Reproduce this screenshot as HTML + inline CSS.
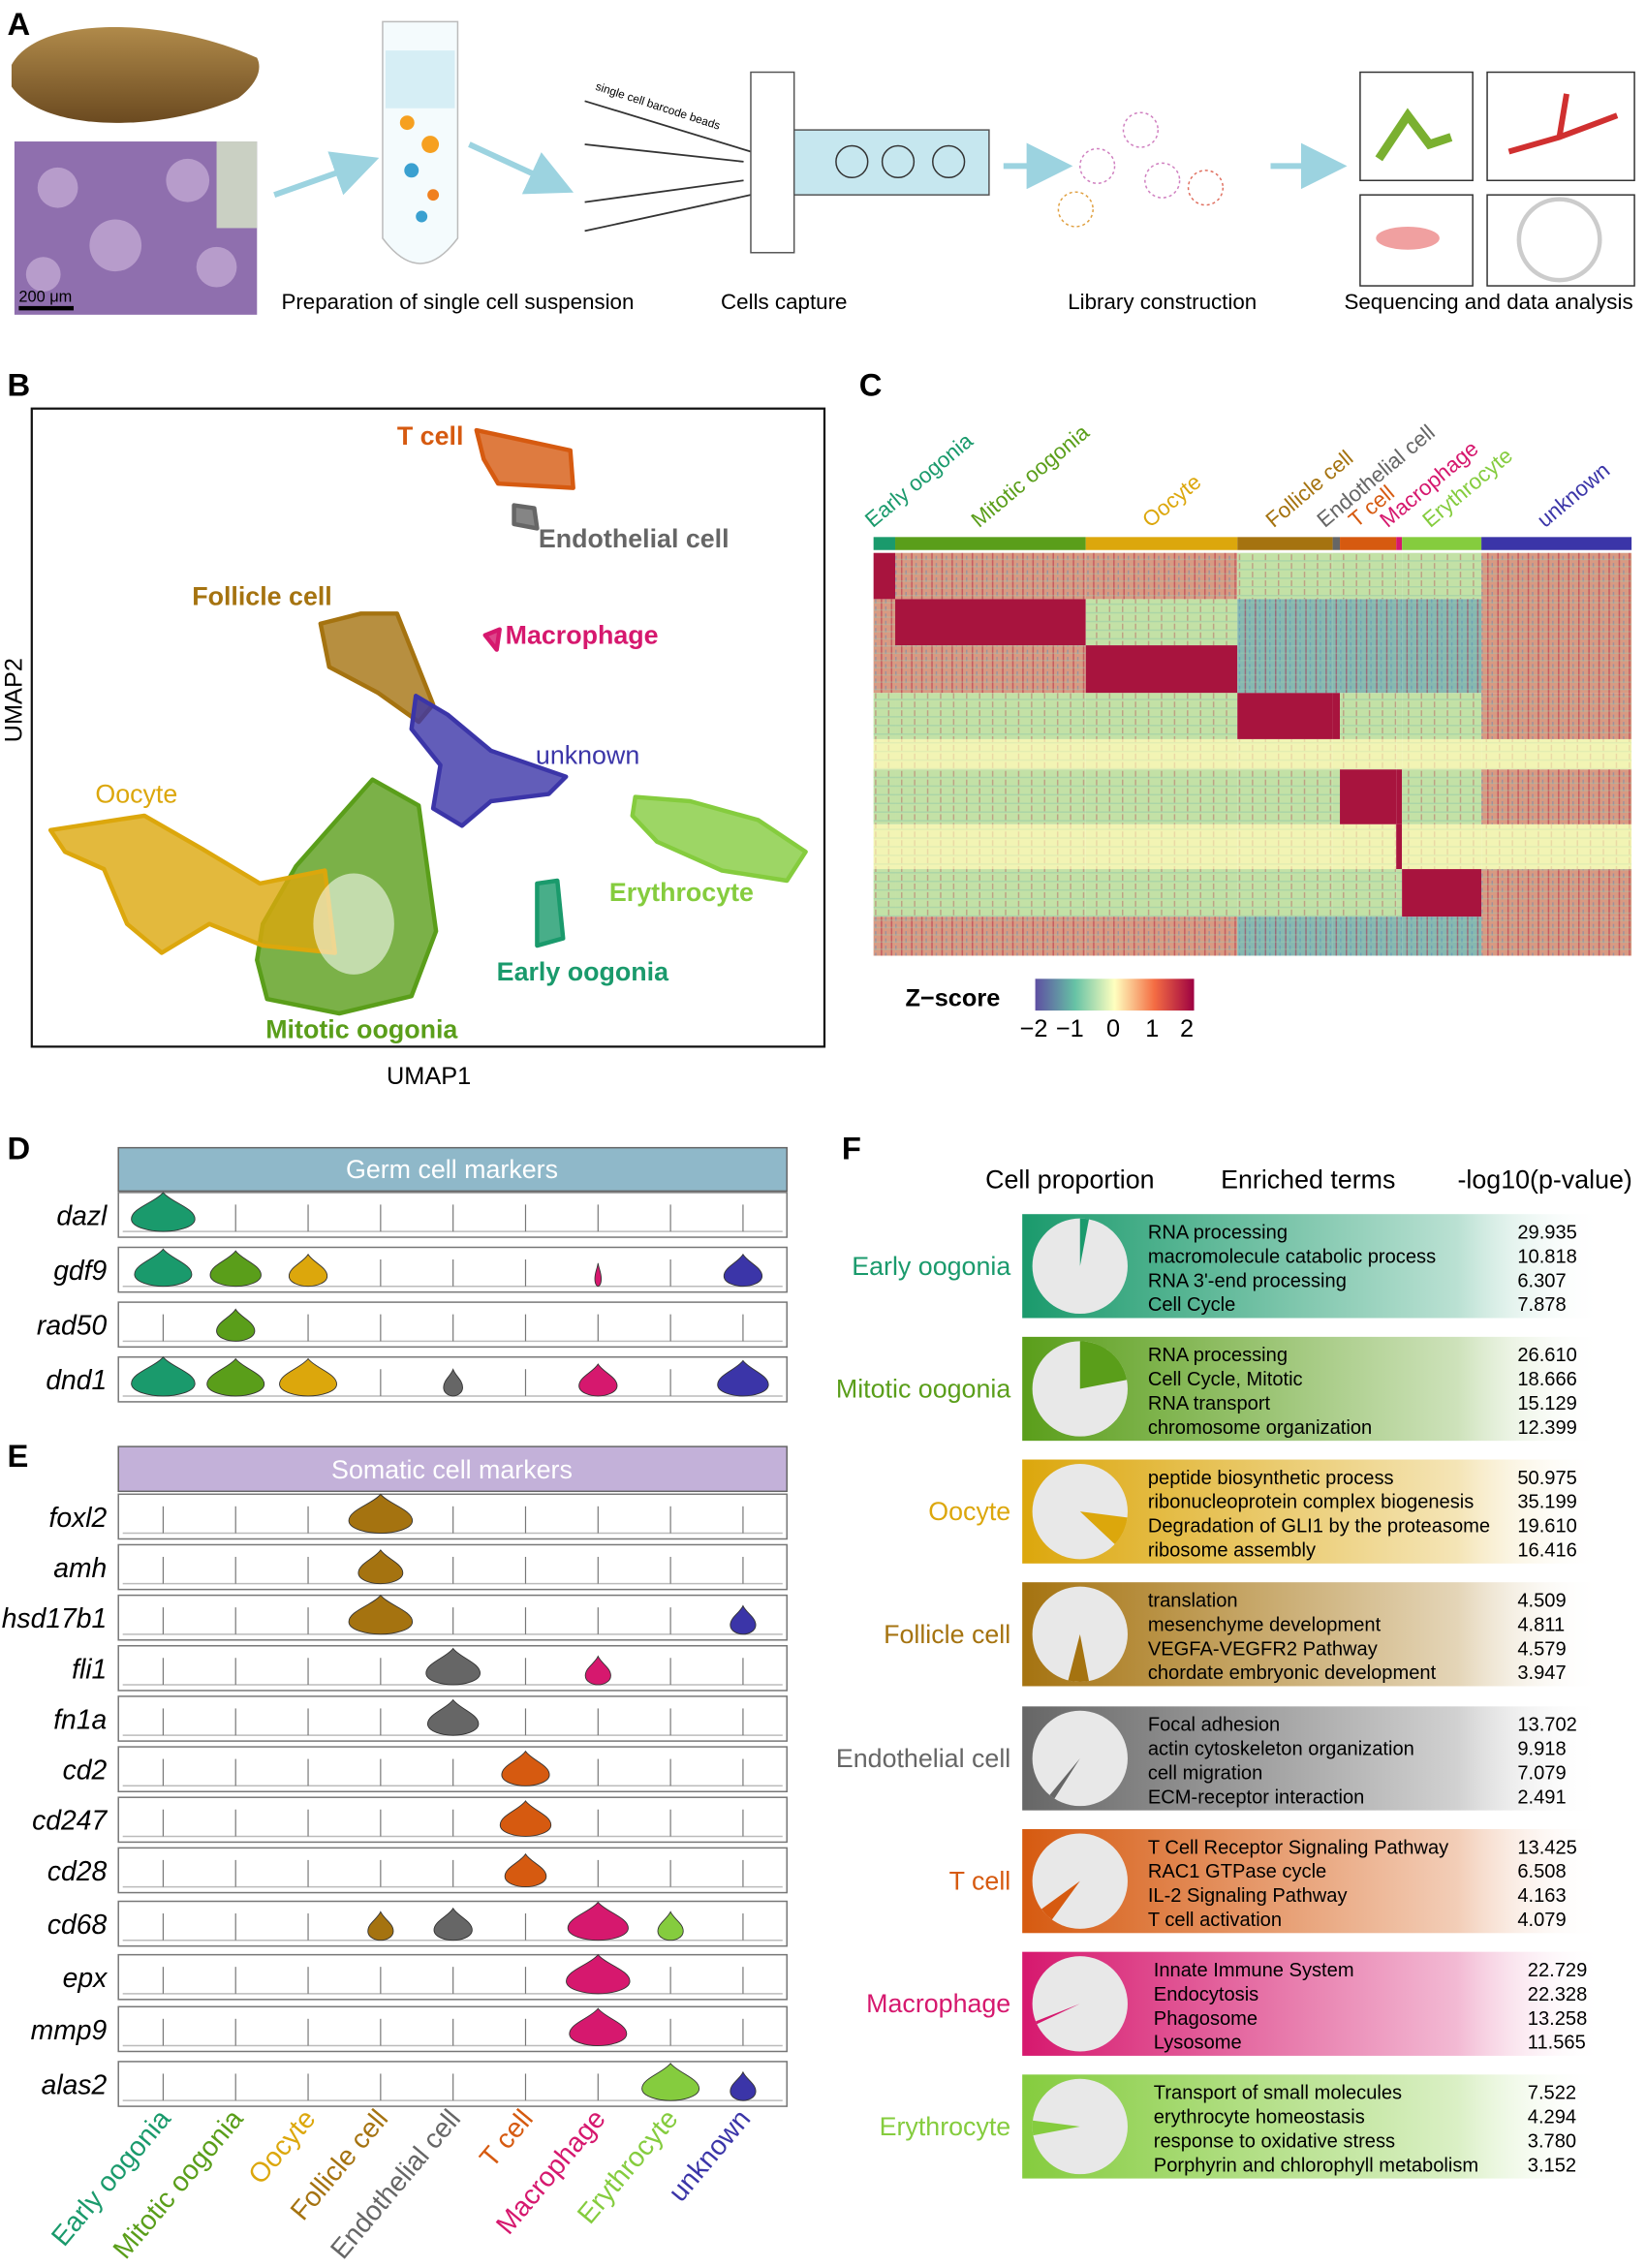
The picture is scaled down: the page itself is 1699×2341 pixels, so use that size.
<!DOCTYPE html>
<html><head><meta charset="utf-8">
<style>
html,body{margin:0;padding:0;background:#fff;}
svg{display:block;font-family:"Liberation Sans",Arial,sans-serif;}
</style></head>
<body>
<svg id="fig" width="1699" height="2341" viewBox="0 0 1140 1571" preserveAspectRatio="none" xmlns="http://www.w3.org/2000/svg">
<defs>
<linearGradient id="fishg" x1="0" y1="0" x2="0" y2="1"><stop offset="0" stop-color="#b08a4a"/><stop offset="1" stop-color="#6b4a20"/></linearGradient>
<linearGradient id="zg" x1="0" x2="1" y1="0" y2="0"><stop offset="0" stop-color="#5e4fa2"/><stop offset="0.25" stop-color="#66c2a5"/><stop offset="0.5" stop-color="#ffffbf"/><stop offset="0.75" stop-color="#f46d43"/><stop offset="1" stop-color="#9e0142"/></linearGradient>
<pattern id="tex" width="7" height="5" patternUnits="userSpaceOnUse"><rect x="1" y="0" width="1" height="5" fill="#b0103a" opacity="0.45"/><rect x="4" y="0" width="1" height="3" fill="#4a7fc0" opacity="0.4"/><rect x="0" y="2" width="7" height="1" fill="#9ccfb0" opacity="0.35"/></pattern>
<pattern id="tex2" width="9" height="6" patternUnits="userSpaceOnUse"><rect x="3" y="0" width="1" height="4" fill="#b0103a" opacity="0.3"/><rect x="0" y="4" width="9" height="1" fill="#7fbfa8" opacity="0.35"/></pattern>
<marker id="arr" markerWidth="8" markerHeight="8" refX="6" refY="4" orient="auto"><path d="M0,0 L8,4 L0,8 z" fill="#9cd3e0"/></marker>
</defs>

<!-- Panel A -->
<g>
<text x="5" y="24" font-size="22" font-weight="bold">A</text>
<path d="M8,45 C25,12 110,10 178,40 C182,48 178,58 165,68 C110,92 30,92 8,60 Z" fill="url(#fishg)"/>
<rect x="10" y="98" width="168" height="120" fill="#8f6fae"/>
<g fill="#c8b0d8" opacity="0.7"><circle cx="40" cy="130" r="14"/><circle cx="80" cy="170" r="18"/><circle cx="130" cy="125" r="15"/><circle cx="150" cy="185" r="14"/><circle cx="30" cy="190" r="12"/></g>
<rect x="150" y="98" width="28" height="60" fill="#d8e8c8" opacity="0.8"/>
<rect x="13" y="212" width="38" height="3" fill="#000"/>
<text x="13" y="209" font-size="11" fill="#000">200 μm</text>
<path d="M190,135 L255,112" stroke="#9cd3e0" stroke-width="4" marker-end="url(#arr)"/>
<path d="M265,15 L317,15 L317,165 Q291,200 265,165 Z" fill="#f4fbfd" stroke="#bbb"/>
<rect x="267" y="35" width="48" height="40" fill="#d6eef5"/>
<g><circle cx="282" cy="85" r="5" fill="#f6a020"/><circle cx="298" cy="100" r="6" fill="#f6a020"/><circle cx="285" cy="118" r="5" fill="#3aa0d0"/><circle cx="300" cy="135" r="4" fill="#f08020"/><circle cx="292" cy="150" r="4" fill="#3aa0d0"/></g>
<path d="M325,100 L390,130" stroke="#9cd3e0" stroke-width="4" marker-end="url(#arr)"/>
<path d="M405,70 L520,105 M405,100 L515,112 M405,140 L515,125 M405,160 L520,135" stroke="#333" stroke-width="1.2" fill="none"/>
<rect x="520" y="50" width="30" height="125" fill="#fff" stroke="#555"/>
<rect x="550" y="90" width="135" height="45" fill="#c6e7ef" stroke="#555"/>
<circle cx="590" cy="112" r="11" fill="none" stroke="#333"/><circle cx="622" cy="112" r="11" fill="none" stroke="#333"/><circle cx="657" cy="112" r="11" fill="none" stroke="#333"/>
<text x="412" y="62" font-size="8" transform="rotate(18 412 62)">single cell barcode beads</text>
<path d="M695,115 L735,115" stroke="#9cd3e0" stroke-width="4" marker-end="url(#arr)"/>
<g stroke="#d080c0" stroke-width="1"><circle cx="760" cy="115" r="12" fill="none" stroke-dasharray="2 2"/><circle cx="790" cy="90" r="12" fill="none" stroke-dasharray="2 2"/><circle cx="805" cy="125" r="12" fill="none" stroke-dasharray="2 2"/><circle cx="835" cy="130" r="12" fill="none" stroke-dasharray="2 2" stroke="#e07060"/><circle cx="745" cy="145" r="12" fill="none" stroke-dasharray="2 2" stroke="#e0a040"/></g>
<path d="M880,115 L925,115" stroke="#9cd3e0" stroke-width="4" marker-end="url(#arr)"/>
<rect x="942" y="50" width="78" height="75" fill="#fff" stroke="#333"/>
<rect x="1030" y="50" width="102" height="75" fill="#fff" stroke="#333"/>
<rect x="942" y="135" width="78" height="63" fill="#fff" stroke="#333"/>
<rect x="1030" y="135" width="102" height="63" fill="#fff" stroke="#333"/>
<path d="M955,110 L975,80 L990,100 L1005,95" stroke="#7ab030" stroke-width="6" fill="none"/>
<path d="M1045,105 L1080,95 L1120,80 M1080,95 L1085,65" stroke="#d03030" stroke-width="4" fill="none"/>
<ellipse cx="975" cy="165" rx="22" ry="8" fill="#f0a0a0"/>
<circle cx="1080" cy="166" r="28" fill="none" stroke="#ccc" stroke-width="3"/>
<g font-size="15" text-anchor="middle">
<text x="317" y="214">Preparation of single cell suspension</text>
<text x="543" y="214">Cells capture</text>
<text x="805" y="214">Library construction</text>
<text x="1031" y="214">Sequencing and data analysis</text>
</g>
</g>

<!-- Panel B -->
<g>
<text x="5" y="274" font-size="22" font-weight="bold">B</text>
<rect x="22" y="283" width="549" height="442" fill="#fff" stroke="#111" stroke-width="1.5"/>
<g id="umap"></g>
<text x="297" y="751" font-size="17" text-anchor="middle">UMAP1</text>
<text x="15" y="485" font-size="17" text-anchor="middle" transform="rotate(-90 15 485)">UMAP2</text>
</g>

<!-- Panel C -->
<g>
<text x="595" y="274" font-size="22" font-weight="bold">C</text>
<g id="heat"></g>
<text x="627" y="697" font-size="17" font-weight="bold">Z−score</text>
<rect x="717" y="678" width="110" height="22" fill="url(#zg)"/>
<g font-size="17" text-anchor="middle"><text x="716" y="718">−2</text><text x="741" y="718">−1</text><text x="771" y="718">0</text><text x="798" y="718">1</text><text x="822" y="718">2</text></g>
</g>

<!-- Panel D/E -->
<g>
<text x="5" y="803" font-size="22" font-weight="bold">D</text>
<text x="5" y="1016" font-size="22" font-weight="bold">E</text>
<rect x="82" y="795" width="463" height="30" fill="#8fb8c9" stroke="#666"/>
<text x="313" y="816" font-size="18" fill="#fff" text-anchor="middle">Germ cell markers</text>
<rect x="82" y="1002" width="463" height="31" fill="#c3b1d9" stroke="#666"/>
<text x="313" y="1024" font-size="18" fill="#fff" text-anchor="middle">Somatic cell markers</text>
<g id="vio"></g>
</g>

<!-- Panel F -->
<g>
<text x="583" y="803" font-size="22" font-weight="bold">F</text>
<g font-size="18" text-anchor="middle">
<text x="741" y="823">Cell proportion</text>
<text x="906" y="823">Enriched terms</text>
<text x="1070" y="823">-log10(p-value)</text>
</g>
<g id="fpanel"></g>
</g>
</svg>
<script>
const NS="http://www.w3.org/2000/svg";
function mk(tag,attrs,parent){const e=document.createElementNS(NS,tag);for(const k in attrs)e.setAttribute(k,attrs[k]);parent.appendChild(e);return e;}

const clusters=["Early oogonia","Mitotic oogonia","Oocyte","Follicle cell","Endothelial cell","T cell","Macrophage","Erythrocyte","unknown"];
const colors=["#1a9a6c","#5a9e1a","#dca70c","#a57310","#666666","#d65a10","#d6186e","#85cc3e","#3b35a8"];

// ---- UMAP (cluster outline shapes) ----
const umapShapes=[
 {c:5,pts:[[330,298],[395,312],[397,338],[345,335],[335,318]]},
 {c:4,pts:[[356,350],[370,352],[372,366],[356,363]]},
 {c:3,pts:[[222,432],[250,425],[275,425],[300,488],[290,500],[262,480],[228,462]]},
 {c:8,pts:[[288,482],[310,495],[340,520],[392,538],[380,550],[340,555],[320,572],[300,560],[305,530],[285,505]]},
 {c:1,pts:[[182,640],[205,600],[258,540],[290,558],[302,645],[285,690],[235,702],[185,692],[178,665]]},
 {c:2,pts:[[35,575],[100,565],[140,588],[180,612],[225,603],[232,660],[182,655],[145,640],[112,660],[88,640],[72,602],[45,590]]},
 {c:7,pts:[[440,552],[478,555],[525,568],[558,590],[545,610],[500,603],[455,583],[438,565]]},
 {c:0,pts:[[372,612],[386,610],[390,650],[372,655]]},
 {c:6,pts:[[336,440],[346,436],[344,450]]}
];
const umapLabels=[
 {t:"T cell",c:5,x:275,y:308,b:1},{t:"Endothelial cell",c:4,x:373,y:379,b:1},{t:"Follicle cell",c:3,x:133,y:419,b:1},
 {t:"Macrophage",c:6,x:350,y:446,b:1},{t:"unknown",c:8,x:371,y:529,b:0},{t:"Oocyte",c:2,x:66,y:556,b:0},
 {t:"Erythrocyte",c:7,x:422,y:624,b:1},{t:"Early oogonia",c:0,x:344,y:679,b:1},{t:"Mitotic oogonia",c:1,x:184,y:719,b:1}
];
const ug=document.getElementById("umap");
umapShapes.forEach(s=>{
  const p=mk("polygon",{points:s.pts.map(q=>q.join(",")).join(" "),fill:colors[s.c],"fill-opacity":"0.8",stroke:colors[s.c],"stroke-width":"3","stroke-linejoin":"round"},ug);
  
  
});
const hole=mk("ellipse",{cx:245,cy:640,rx:28,ry:35,fill:"#fff","fill-opacity":"0.55"},ug);


umapLabels.forEach(l=>{
  const t=mk("text",{x:l.x,y:l.y,"font-size":"18","font-weight":l.b?"bold":"normal",fill:colors[l.c]},ug);
  t.textContent=l.t;
  
  
});

// ---- Heatmap ----
const colBounds=[605,620,752,857,923,928,967,971,1026,1130];
const rowBounds=[383,415,447,480,512,533,571,602,635,662];
const heatCodes=[
 "RMMGGGGGM",
 "MRGBBBBBM",
 "MMRBBBBBM",
 "GGGRRGGGM",
 "YYYYYYYYY",
 "GGGGGRRGM",
 "YYYYYYRYY",
 "GGGGGGGRM",
 "MMMBBBBBM"
];
const codeColor={R:"#a8143e",M:"#d89a82",B:"#86b8b0",G:"#c3e1a6",Y:"#f2f4b4"};
const hg=document.getElementById("heat");
for(let i=0;i<9;i++){
  const r=mk("rect",{x:colBounds[i],y:372,width:colBounds[i+1]-colBounds[i],height:9,fill:colors[i]},hg);
  
  
  const t=mk("text",{x:0,y:0,"font-size":"15",fill:colors[i],transform:"translate("+((colBounds[i]+colBounds[i+1])/2-8)+",366) rotate(-40)"},hg);
  t.textContent=clusters[i];
  
  
}
for(let r=0;r<9;r++)for(let c=0;c<9;c++){
  const code=heatCodes[r][c];
  const x=colBounds[c],y=rowBounds[r],w=colBounds[c+1]-colBounds[c],h=rowBounds[r+1]-rowBounds[r];
  const cell=mk("rect",{x:x,y:y,width:w,height:h,fill:codeColor[code]},hg);
  
  
  if(code!=="Y"&&code!=="R"){mk("rect",{x:x,y:y,width:w,height:h,fill:code==="G"?"url(#tex2)":"url(#tex)"},hg);}
  if(code==="Y"){mk("rect",{x:x,y:y,width:w,height:h,fill:"url(#tex2)",opacity:"0.4"},hg);}
}

// ---- Violins ----
const germGenes=["dazl","gdf9","rad50","dnd1"];
const germTops=[826,864,902,940];
const germVals=[
 [1,0,0,0,0,0,0,0,0],
 [0.9,0.8,0.6,0,0,0,0.1,0,0.6],
 [0,0.6,0,0,0,0,0,0,0],
 [1,0.9,0.9,0,0.3,0,0.6,0,0.8]
];
const somGenes=["foxl2","amh","hsd17b1","fli1","fn1a","cd2","cd247","cd28","cd68","epx","mmp9","alas2"];
const somTops=[1035,1070,1105,1140,1175,1210,1245,1280,1317,1354,1390,1428];
const somVals=[
 [0,0,0,1,0,0,0,0,0],
 [0,0,0,0.7,0,0,0,0,0],
 [0,0,0,1,0,0,0,0,0.4],
 [0,0,0,0,0.85,0,0.4,0,0],
 [0,0,0,0,0.8,0,0,0,0],
 [0,0,0,0,0,0.75,0,0,0],
 [0,0,0,0,0,0.8,0,0,0],
 [0,0,0,0,0,0.65,0,0,0],
 [0,0,0,0.4,0.6,0,0.95,0.4,0],
 [0,0,0,0,0,0,1,0,0],
 [0,0,0,0,0,0,0.9,0,0],
 [0,0,0,0,0,0,0,0.9,0.4]
];
const vg=document.getElementById("vio");
const colX=i=>113+i*50.2;
function drawRows(genes,tops,vals,rowH){
  genes.forEach((g,ri)=>{
    const top=tops[ri],yb=top+rowH-4;
    const box=mk("rect",{x:82,y:top,width:463,height:rowH,fill:"#fff",stroke:"#777","stroke-width":"1"},vg);
    
    
    const lab=mk("text",{x:74,y:top+rowH/2+7,"font-size":"19","font-style":"italic","text-anchor":"end"},vg);
    lab.textContent=g;
    
    
    mk("line",{x1:85,x2:542,y1:yb,y2:yb,stroke:"#bbb","stroke-width":"1"},vg);
    vals[ri].forEach((v,ci)=>{
      const cx=colX(ci);
      if(v<=0.05){
        const l=mk("line",{x1:cx,x2:cx,y1:yb-rowH*0.6,y2:yb,stroke:"#777","stroke-width":"0.8"},vg);
        
        
        return;
      }
      const h=(rowH-4)*Math.min(1,0.55+0.45*v), w=22*v;
      const d="M"+cx+","+(yb-h)+" C"+(cx+w*0.25)+","+(yb-h*0.75)+" "+(cx+w)+","+(yb-h*0.6)+" "+(cx+w)+","+(yb-h*0.32)+" C"+(cx+w)+","+(yb-h*0.1)+" "+(cx+w*0.4)+","+yb+" "+cx+","+yb+" C"+(cx-w*0.4)+","+yb+" "+(cx-w)+","+(yb-h*0.1)+" "+(cx-w)+","+(yb-h*0.32)+" C"+(cx-w)+","+(yb-h*0.6)+" "+(cx-w*0.25)+","+(yb-h*0.75)+" "+cx+","+(yb-h)+" Z";
      const p=mk("path",{d:d,fill:colors[ci],stroke:"#333","stroke-width":"0.6"},vg);
      
      
    });
  });
}
drawRows(germGenes,germTops,germVals,31);
drawRows(somGenes,somTops,somVals,31);
clusters.forEach((c,i)=>{
  const cx=colX(i)+6;
  const t=mk("text",{x:cx,y:1468,"font-size":"19","text-anchor":"end",fill:colors[i],transform:"rotate(-50 "+cx+" 1468)"},vg);
  t.textContent=c;
  
  
});

// ---- Panel F ----
const fNames=["Early oogonia","Mitotic oogonia","Oocyte","Follicle cell","Endothelial cell","T cell","Macrophage","Erythrocyte"];
const fColorIdx=[0,1,2,3,4,5,6,7];
const fTops=[841,926,1011,1096,1182,1267,1352,1437];
const pieStart=[0.0,0.0,0.27,0.47,0.59,0.6,0.68,0.72];
const pieFrac=[0.03,0.22,0.1,0.07,0.02,0.05,0.01,0.05];
const fTerms=[
 ["RNA processing","macromolecule catabolic process","RNA 3'-end processing","Cell Cycle"],
 ["RNA processing","Cell Cycle, Mitotic","RNA transport","chromosome organization"],
 ["peptide biosynthetic process","ribonucleoprotein complex biogenesis","Degradation of GLI1 by the proteasome","ribosome assembly"],
 ["translation","mesenchyme development","VEGFA-VEGFR2 Pathway","chordate embryonic development"],
 ["Focal adhesion","actin cytoskeleton organization","cell migration","ECM-receptor interaction"],
 ["T Cell Receptor Signaling Pathway","RAC1 GTPase cycle","IL-2 Signaling Pathway","T cell activation"],
 ["Innate Immune System","Endocytosis","Phagosome","Lysosome"],
 ["Transport of small molecules","erythrocyte homeostasis","response to oxidative stress","Porphyrin and chlorophyll metabolism"]
];
const fVals=[
 ["29.935","10.818","6.307","7.878"],["26.610","18.666","15.129","12.399"],["50.975","35.199","19.610","16.416"],
 ["4.509","4.811","4.579","3.947"],["13.702","9.918","7.079","2.491"],["13.425","6.508","4.163","4.079"],
 ["22.729","22.328","13.258","11.565"],["7.522","4.294","3.780","3.152"]
];
const fg=document.getElementById("fpanel");
const defs=document.querySelector("defs");
fNames.forEach((n,i)=>{
  const col=colors[fColorIdx[i]], top=fTops[i];
  const gid="fg"+i;
  const lg=mk("linearGradient",{id:gid,x1:"0",x2:"1",y1:"0",y2:"0"},defs);
  mk("stop",{offset:"0",'stop-color':col},lg);
  mk("stop",{offset:"0.75",'stop-color':col,'stop-opacity':"0.3"},lg);
  mk("stop",{offset:"1",'stop-color':"#fff",'stop-opacity':"0"},lg);
  const box=mk("rect",{x:708,y:top,width:402,height:72,fill:"url(#"+gid+")"},fg);
  
  
  const lab=mk("text",{x:700,y:top+42,"font-size":"18","text-anchor":"end",fill:col},fg);
  lab.textContent=n;
  
  
  const cx=748,cy=top+36,r=33;
  const pc=mk("circle",{cx:cx,cy:cy,r:r,fill:"#e8e8e8"},fg);
  
  
  const a0=pieStart[i]*2*Math.PI,a1=(pieStart[i]+pieFrac[i])*2*Math.PI;
  const x0=cx+r*Math.sin(a0),y0=cy-r*Math.cos(a0),x1=cx+r*Math.sin(a1),y1=cy-r*Math.cos(a1);
  const sl=mk("path",{d:"M"+cx+","+cy+" L"+x0+","+y0+" A"+r+","+r+" 0 "+(pieFrac[i]>0.5?1:0)+" 1 "+x1+","+y1+" Z",fill:col},fg);
  
  
  const tx=(i>=6)?799:795;
  fTerms[i].forEach((t,k)=>{
    const e=mk("text",{x:tx,y:top+17+k*16.7,"font-size":"13.5"},fg);
    e.textContent=t;
    
    
    const v=mk("text",{x:(i>=6?1058:1051),y:top+17+k*16.7,"font-size":"13.5"},fg);
    v.textContent=fVals[i][k];
    
    
  });
});
</script>
</body></html>
